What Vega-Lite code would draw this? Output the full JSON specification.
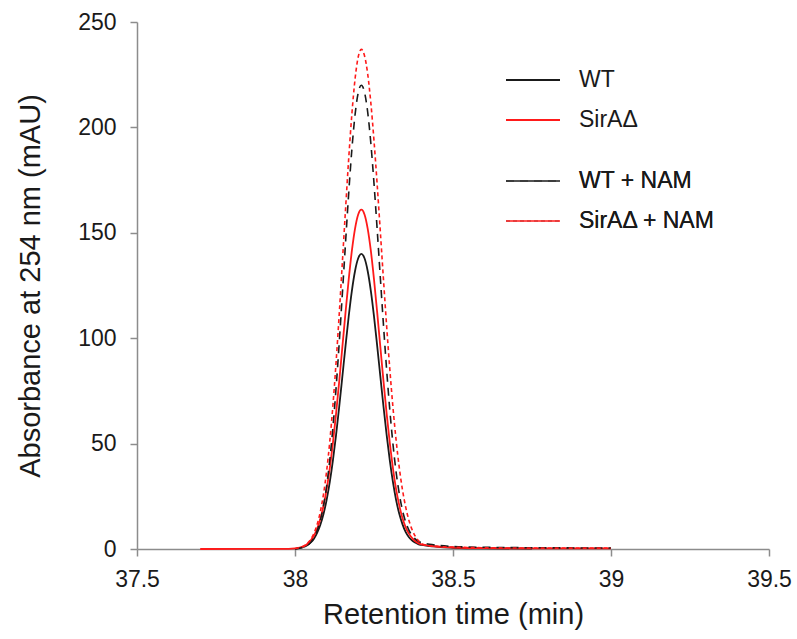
{
  "$schema": "https://vega.github.io/schema/vega-lite/v6.json",
  "width": 632,
  "height": 527,
  "autosize": {"type": "none"},
  "padding": {"left": 137, "top": 22, "right": 28, "bottom": 90},
  "datasets": {
    "solid": [
      {"series": "WT", "time": 38.00, "abs": 0},
      {"series": "WT", "time": 38.01, "abs": 0.4},
      {"series": "WT", "time": 38.02, "abs": 0.7},
      {"series": "WT", "time": 38.03, "abs": 1.1},
      {"series": "WT", "time": 38.04, "abs": 1.9},
      {"series": "WT", "time": 38.05, "abs": 3.1},
      {"series": "WT", "time": 38.06, "abs": 4.9},
      {"series": "WT", "time": 38.07, "abs": 7.6},
      {"series": "WT", "time": 38.08, "abs": 11.4},
      {"series": "WT", "time": 38.09, "abs": 16.5},
      {"series": "WT", "time": 38.10, "abs": 23.2},
      {"series": "WT", "time": 38.11, "abs": 31.7},
      {"series": "WT", "time": 38.12, "abs": 42.0},
      {"series": "WT", "time": 38.13, "abs": 54.1},
      {"series": "WT", "time": 38.14, "abs": 67.6},
      {"series": "WT", "time": 38.15, "abs": 82.0},
      {"series": "WT", "time": 38.16, "abs": 96.5},
      {"series": "WT", "time": 38.17, "abs": 110.4},
      {"series": "WT", "time": 38.18, "abs": 122.5},
      {"series": "WT", "time": 38.19, "abs": 131.9},
      {"series": "WT", "time": 38.20, "abs": 137.9},
      {"series": "WT", "time": 38.21, "abs": 140.0},
      {"series": "WT", "time": 38.22, "abs": 137.9},
      {"series": "WT", "time": 38.23, "abs": 131.9},
      {"series": "WT", "time": 38.24, "abs": 122.5},
      {"series": "WT", "time": 38.25, "abs": 110.4},
      {"series": "WT", "time": 38.26, "abs": 96.5},
      {"series": "WT", "time": 38.27, "abs": 82.0},
      {"series": "WT", "time": 38.28, "abs": 67.6},
      {"series": "WT", "time": 38.29, "abs": 54.1},
      {"series": "WT", "time": 38.30, "abs": 42.0},
      {"series": "WT", "time": 38.31, "abs": 31.7},
      {"series": "WT", "time": 38.32, "abs": 23.2},
      {"series": "WT", "time": 38.33, "abs": 16.7},
      {"series": "WT", "time": 38.34, "abs": 11.8},
      {"series": "WT", "time": 38.35, "abs": 8.1},
      {"series": "WT", "time": 38.36, "abs": 5.7},
      {"series": "WT", "time": 38.37, "abs": 4.1},
      {"series": "WT", "time": 38.38, "abs": 3.1},
      {"series": "WT", "time": 38.39, "abs": 2.3},
      {"series": "WT", "time": 38.40, "abs": 1.9},
      {"series": "WT", "time": 38.42, "abs": 1.5},
      {"series": "WT", "time": 38.44, "abs": 1.2},
      {"series": "WT", "time": 38.46, "abs": 0.9},
      {"series": "WT", "time": 38.50, "abs": 0.6},
      {"series": "WT", "time": 38.60, "abs": 0.3},
      {"series": "WT", "time": 38.75, "abs": 0.2},
      {"series": "SirAΔ", "time": 37.70, "abs": 0},
      {"series": "SirAΔ", "time": 37.98, "abs": 0.1},
      {"series": "SirAΔ", "time": 38.00, "abs": 0.3},
      {"series": "SirAΔ", "time": 38.01, "abs": 0.5},
      {"series": "SirAΔ", "time": 38.02, "abs": 0.9},
      {"series": "SirAΔ", "time": 38.03, "abs": 1.5},
      {"series": "SirAΔ", "time": 38.04, "abs": 2.5},
      {"series": "SirAΔ", "time": 38.05, "abs": 4.1},
      {"series": "SirAΔ", "time": 38.06, "abs": 6.4},
      {"series": "SirAΔ", "time": 38.07, "abs": 9.6},
      {"series": "SirAΔ", "time": 38.08, "abs": 14.2},
      {"series": "SirAΔ", "time": 38.09, "abs": 20.4},
      {"series": "SirAΔ", "time": 38.10, "abs": 28.3},
      {"series": "SirAΔ", "time": 38.11, "abs": 38.3},
      {"series": "SirAΔ", "time": 38.12, "abs": 50.3},
      {"series": "SirAΔ", "time": 38.13, "abs": 64.2},
      {"series": "SirAΔ", "time": 38.14, "abs": 79.6},
      {"series": "SirAΔ", "time": 38.15, "abs": 96.0},
      {"series": "SirAΔ", "time": 38.16, "abs": 112.4},
      {"series": "SirAΔ", "time": 38.17, "abs": 127.9},
      {"series": "SirAΔ", "time": 38.18, "abs": 141.5},
      {"series": "SirAΔ", "time": 38.19, "abs": 152.0},
      {"series": "SirAΔ", "time": 38.20, "abs": 158.7},
      {"series": "SirAΔ", "time": 38.21, "abs": 161.0},
      {"series": "SirAΔ", "time": 38.22, "abs": 158.7},
      {"series": "SirAΔ", "time": 38.23, "abs": 152.0},
      {"series": "SirAΔ", "time": 38.24, "abs": 141.5},
      {"series": "SirAΔ", "time": 38.25, "abs": 127.9},
      {"series": "SirAΔ", "time": 38.26, "abs": 112.4},
      {"series": "SirAΔ", "time": 38.27, "abs": 96.0},
      {"series": "SirAΔ", "time": 38.28, "abs": 79.6},
      {"series": "SirAΔ", "time": 38.29, "abs": 64.2},
      {"series": "SirAΔ", "time": 38.30, "abs": 50.3},
      {"series": "SirAΔ", "time": 38.31, "abs": 38.3},
      {"series": "SirAΔ", "time": 38.32, "abs": 28.3},
      {"series": "SirAΔ", "time": 38.33, "abs": 20.7},
      {"series": "SirAΔ", "time": 38.34, "abs": 14.7},
      {"series": "SirAΔ", "time": 38.35, "abs": 10.4},
      {"series": "SirAΔ", "time": 38.36, "abs": 7.4},
      {"series": "SirAΔ", "time": 38.37, "abs": 5.3},
      {"series": "SirAΔ", "time": 38.38, "abs": 3.8},
      {"series": "SirAΔ", "time": 38.39, "abs": 2.8},
      {"series": "SirAΔ", "time": 38.40, "abs": 2.2},
      {"series": "SirAΔ", "time": 38.42, "abs": 1.7},
      {"series": "SirAΔ", "time": 38.44, "abs": 1.3},
      {"series": "SirAΔ", "time": 38.46, "abs": 1.0},
      {"series": "SirAΔ", "time": 38.50, "abs": 0.7},
      {"series": "SirAΔ", "time": 38.60, "abs": 0.4},
      {"series": "SirAΔ", "time": 38.80, "abs": 0.3},
      {"series": "SirAΔ", "time": 39.00, "abs": 0.3}
    ],
    "dashed": [
      {"series": "WT + NAM", "time": 38.00, "abs": 0},
      {"series": "WT + NAM", "time": 38.01, "abs": 0.3},
      {"series": "WT + NAM", "time": 38.02, "abs": 0.6},
      {"series": "WT + NAM", "time": 38.03, "abs": 1.0},
      {"series": "WT + NAM", "time": 38.04, "abs": 1.8},
      {"series": "WT + NAM", "time": 38.05, "abs": 3.2},
      {"series": "WT + NAM", "time": 38.06, "abs": 5.3},
      {"series": "WT + NAM", "time": 38.07, "abs": 8.6},
      {"series": "WT + NAM", "time": 38.08, "abs": 13.5},
      {"series": "WT + NAM", "time": 38.09, "abs": 20.4},
      {"series": "WT + NAM", "time": 38.10, "abs": 29.8},
      {"series": "WT + NAM", "time": 38.11, "abs": 42.1},
      {"series": "WT + NAM", "time": 38.12, "abs": 57.7},
      {"series": "WT + NAM", "time": 38.13, "abs": 76.4},
      {"series": "WT + NAM", "time": 38.14, "abs": 97.9},
      {"series": "WT + NAM", "time": 38.15, "abs": 121.4},
      {"series": "WT + NAM", "time": 38.16, "abs": 145.5},
      {"series": "WT + NAM", "time": 38.17, "abs": 168.9},
      {"series": "WT + NAM", "time": 38.18, "abs": 189.6},
      {"series": "WT + NAM", "time": 38.19, "abs": 205.9},
      {"series": "WT + NAM", "time": 38.20, "abs": 216.4},
      {"series": "WT + NAM", "time": 38.21, "abs": 220.0},
      {"series": "WT + NAM", "time": 38.22, "abs": 216.7},
      {"series": "WT + NAM", "time": 38.23, "abs": 207.3},
      {"series": "WT + NAM", "time": 38.24, "abs": 192.5},
      {"series": "WT + NAM", "time": 38.25, "abs": 173.4},
      {"series": "WT + NAM", "time": 38.26, "abs": 151.7},
      {"series": "WT + NAM", "time": 38.27, "abs": 128.8},
      {"series": "WT + NAM", "time": 38.28, "abs": 106.2},
      {"series": "WT + NAM", "time": 38.29, "abs": 85.0},
      {"series": "WT + NAM", "time": 38.30, "abs": 66.0},
      {"series": "WT + NAM", "time": 38.31, "abs": 49.8},
      {"series": "WT + NAM", "time": 38.32, "abs": 36.4},
      {"series": "WT + NAM", "time": 38.33, "abs": 26.2},
      {"series": "WT + NAM", "time": 38.34, "abs": 18.4},
      {"series": "WT + NAM", "time": 38.35, "abs": 12.9},
      {"series": "WT + NAM", "time": 38.36, "abs": 9.1},
      {"series": "WT + NAM", "time": 38.37, "abs": 6.5},
      {"series": "WT + NAM", "time": 38.38, "abs": 4.8},
      {"series": "WT + NAM", "time": 38.39, "abs": 3.7},
      {"series": "WT + NAM", "time": 38.40, "abs": 3.0},
      {"series": "WT + NAM", "time": 38.42, "abs": 2.4},
      {"series": "WT + NAM", "time": 38.44, "abs": 2.0},
      {"series": "WT + NAM", "time": 38.46, "abs": 1.6},
      {"series": "WT + NAM", "time": 38.50, "abs": 1.2},
      {"series": "WT + NAM", "time": 38.60, "abs": 0.8},
      {"series": "WT + NAM", "time": 38.75, "abs": 0.6},
      {"series": "WT + NAM", "time": 38.90, "abs": 0.5},
      {"series": "WT + NAM", "time": 39.00, "abs": 0.5},
      {"series": "SirAΔ + NAM", "time": 38.00, "abs": 0.2},
      {"series": "SirAΔ + NAM", "time": 38.01, "abs": 0.5},
      {"series": "SirAΔ + NAM", "time": 38.02, "abs": 0.9},
      {"series": "SirAΔ + NAM", "time": 38.03, "abs": 1.6},
      {"series": "SirAΔ + NAM", "time": 38.04, "abs": 2.8},
      {"series": "SirAΔ + NAM", "time": 38.05, "abs": 4.6},
      {"series": "SirAΔ + NAM", "time": 38.06, "abs": 7.4},
      {"series": "SirAΔ + NAM", "time": 38.07, "abs": 11.6},
      {"series": "SirAΔ + NAM", "time": 38.08, "abs": 17.6},
      {"series": "SirAΔ + NAM", "time": 38.09, "abs": 25.8},
      {"series": "SirAΔ + NAM", "time": 38.10, "abs": 36.8},
      {"series": "SirAΔ + NAM", "time": 38.11, "abs": 50.9},
      {"series": "SirAΔ + NAM", "time": 38.12, "abs": 68.1},
      {"series": "SirAΔ + NAM", "time": 38.13, "abs": 88.5},
      {"series": "SirAΔ + NAM", "time": 38.14, "abs": 111.5},
      {"series": "SirAΔ + NAM", "time": 38.15, "abs": 136.2},
      {"series": "SirAΔ + NAM", "time": 38.16, "abs": 161.3},
      {"series": "SirAΔ + NAM", "time": 38.17, "abs": 185.3},
      {"series": "SirAΔ + NAM", "time": 38.18, "abs": 206.4},
      {"series": "SirAΔ + NAM", "time": 38.19, "abs": 222.9},
      {"series": "SirAΔ + NAM", "time": 38.20, "abs": 233.4},
      {"series": "SirAΔ + NAM", "time": 38.21, "abs": 237.0},
      {"series": "SirAΔ + NAM", "time": 38.22, "abs": 234.0},
      {"series": "SirAΔ + NAM", "time": 38.23, "abs": 225.4},
      {"series": "SirAΔ + NAM", "time": 38.24, "abs": 211.6},
      {"series": "SirAΔ + NAM", "time": 38.25, "abs": 193.7},
      {"series": "SirAΔ + NAM", "time": 38.26, "abs": 173.0},
      {"series": "SirAΔ + NAM", "time": 38.27, "abs": 150.6},
      {"series": "SirAΔ + NAM", "time": 38.28, "abs": 127.8},
      {"series": "SirAΔ + NAM", "time": 38.29, "abs": 105.8},
      {"series": "SirAΔ + NAM", "time": 38.30, "abs": 85.4},
      {"series": "SirAΔ + NAM", "time": 38.31, "abs": 67.2},
      {"series": "SirAΔ + NAM", "time": 38.32, "abs": 51.6},
      {"series": "SirAΔ + NAM", "time": 38.33, "abs": 38.6},
      {"series": "SirAΔ + NAM", "time": 38.34, "abs": 28.2},
      {"series": "SirAΔ + NAM", "time": 38.35, "abs": 20.1},
      {"series": "SirAΔ + NAM", "time": 38.36, "abs": 13.9},
      {"series": "SirAΔ + NAM", "time": 38.37, "abs": 9.4},
      {"series": "SirAΔ + NAM", "time": 38.38, "abs": 6.2},
      {"series": "SirAΔ + NAM", "time": 38.39, "abs": 4.0},
      {"series": "SirAΔ + NAM", "time": 38.40, "abs": 2.8},
      {"series": "SirAΔ + NAM", "time": 38.41, "abs": 2.0},
      {"series": "SirAΔ + NAM", "time": 38.42, "abs": 1.6},
      {"series": "SirAΔ + NAM", "time": 38.44, "abs": 1.3},
      {"series": "SirAΔ + NAM", "time": 38.46, "abs": 1.1},
      {"series": "SirAΔ + NAM", "time": 38.50, "abs": 0.9},
      {"series": "SirAΔ + NAM", "time": 38.60, "abs": 0.6},
      {"series": "SirAΔ + NAM", "time": 38.80, "abs": 0.4},
      {"series": "SirAΔ + NAM", "time": 39.00, "abs": 0.4}
    ]
  },
  "encoding": {
    "x": {
      "field": "time", "type": "quantitative",
      "scale": {"domain": [37.5, 39.5], "nice": false, "zero": false},
      "axis": {
        "title": "Retention time (min)",
        "values": [37.5, 38, 38.5, 39, 39.5],
        "labelExpr": "'' + datum.value",
        "labelPadding": 12,
        "titlePadding": 9
      }
    },
    "y": {
      "field": "abs", "type": "quantitative",
      "scale": {"domain": [0, 250], "nice": false},
      "axis": {
        "title": "Absorbance at 254 nm (mAU)",
        "values": [0, 50, 100, 150, 200, 250],
        "format": "d",
        "labelPadding": 14,
        "titlePadding": 32
      }
    }
  },
  "layer": [
    {
      "data": {"name": "solid"},
      "mark": {"type": "line", "strokeWidth": 1.8, "interpolate": "monotone"},
      "encoding": {
        "color": {
          "field": "series", "type": "nominal",
          "scale": {"domain": ["WT", "SirAΔ"], "range": ["#1a1a1a", "#ff1a1a"]},
          "legend": {
            "orient": "none", "legendX": 368, "legendY": 30,
            "title": null, "symbolStrokeWidth": 2, "rowPadding": 0
          }
        }
      }
    },
    {
      "data": {"name": "dashed"},
      "mark": {"type": "line", "strokeWidth": 1.6, "interpolate": "monotone"},
      "encoding": {
        "color": {
          "field": "series", "type": "nominal",
          "scale": {"domain": ["WT + NAM", "SirAΔ + NAM"], "range": ["#1a1a1a", "#ff1a1a"]},
          "legend": {
            "orient": "none", "legendX": 368, "legendY": 131,
            "title": null, "symbolStrokeWidth": 1.6, "rowPadding": 0
          }
        },
        "strokeDash": {
          "field": "series", "type": "nominal",
          "scale": {"domain": ["WT + NAM", "SirAΔ + NAM"], "range": [[8, 6], [4, 3]]},
          "legend": {
            "orient": "none", "legendX": 368, "legendY": 131,
            "title": null, "symbolStrokeWidth": 1.6, "rowPadding": 0
          }
        }
      }
    }
  ],
  "resolve": {"scale": {"color": "independent"}, "legend": {"color": "independent"}},
  "config": {
    "view": {"stroke": null},
    "font": "Liberation Sans",
    "axis": {
      "grid": false,
      "domainColor": "#8c8c8c",
      "domainWidth": 1.5,
      "tickColor": "#8c8c8c",
      "tickWidth": 1.5,
      "tickSize": 7,
      "labelFontSize": 23,
      "labelColor": "#1a1a1a",
      "labelFont": "Liberation Sans",
      "titleFont": "Liberation Sans",
      "titleFontSize": 29,
      "titleFontWeight": "normal",
      "titleColor": "#1a1a1a",
      "labelFlush": false,
      "labelOverlap": false
    },
    "legend": {
      "symbolType": "stroke",
      "symbolSize": 2916,
      "labelFontSize": 23,
      "labelFont": "Liberation Sans",
      "labelColor": "#1a1a1a",
      "labelOffset": 18,
      "padding": 0,
      "labelLimit": 300
    }
  }
}
